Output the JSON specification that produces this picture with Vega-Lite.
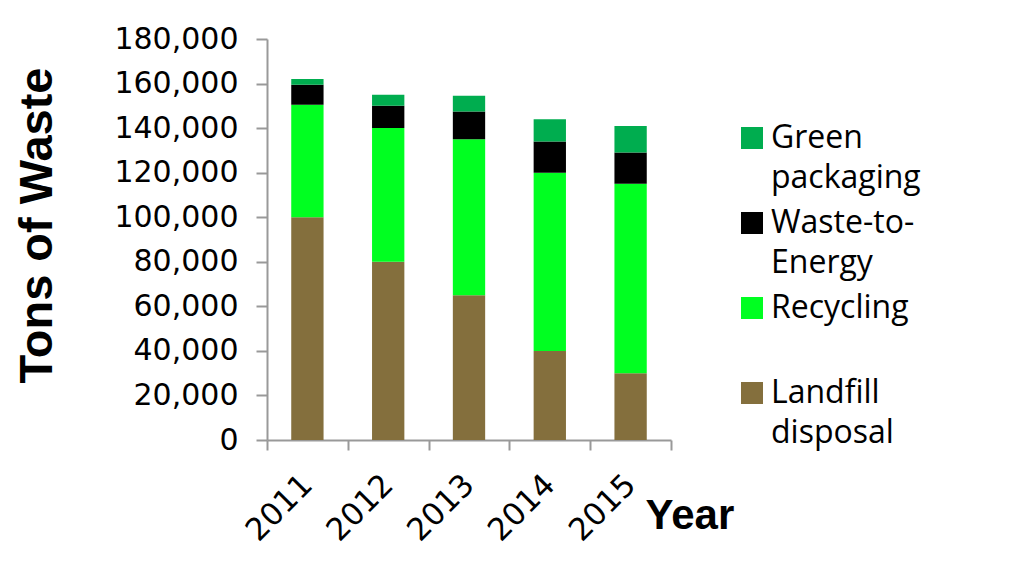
{
  "$schema": "https://vega.github.io/schema/vega-lite/v6.json",
  "autosize": "none",
  "width": 404,
  "height": 401,
  "padding": {"left": 267, "top": 39, "right": 350, "bottom": 122},
  "background": "white",
  "data": {
    "values": [
      {"year": "2011", "type": "Landfill disposal", "k": 1, "tons": 100000},
      {"year": "2011", "type": "Recycling", "k": 2, "tons": 50500},
      {"year": "2011", "type": "Waste-to-Energy", "k": 3, "tons": 9000},
      {"year": "2011", "type": "Green packaging", "k": 4, "tons": 2500},
      {"year": "2012", "type": "Landfill disposal", "k": 1, "tons": 80000},
      {"year": "2012", "type": "Recycling", "k": 2, "tons": 60000},
      {"year": "2012", "type": "Waste-to-Energy", "k": 3, "tons": 10000},
      {"year": "2012", "type": "Green packaging", "k": 4, "tons": 5000},
      {"year": "2013", "type": "Landfill disposal", "k": 1, "tons": 65000},
      {"year": "2013", "type": "Recycling", "k": 2, "tons": 70000},
      {"year": "2013", "type": "Waste-to-Energy", "k": 3, "tons": 12500},
      {"year": "2013", "type": "Green packaging", "k": 4, "tons": 7000},
      {"year": "2014", "type": "Landfill disposal", "k": 1, "tons": 40000},
      {"year": "2014", "type": "Recycling", "k": 2, "tons": 80000},
      {"year": "2014", "type": "Waste-to-Energy", "k": 3, "tons": 14000},
      {"year": "2014", "type": "Green packaging", "k": 4, "tons": 10000},
      {"year": "2015", "type": "Landfill disposal", "k": 1, "tons": 30000},
      {"year": "2015", "type": "Recycling", "k": 2, "tons": 85000},
      {"year": "2015", "type": "Waste-to-Energy", "k": 3, "tons": 14000},
      {"year": "2015", "type": "Green packaging", "k": 4, "tons": 12000}
    ]
  },
  "mark": {"type": "bar", "width": {"band": 0.4}},
  "encoding": {
    "x": {
      "field": "year",
      "type": "ordinal",
      "scale": {"paddingInner": 0, "paddingOuter": 0},
      "axis": {
        "title": "Year",
        "titleFont": "Liberation Sans",
        "titleFontSize": 42,
        "titleFontWeight": "bold",
        "titleColor": "black",
        "titleAlign": "left",
        "titleBaseline": "alphabetic",
        "titleAnchor": "start",
        "titleX": 378,
        "titleY": 88,
        "labelAngle": -45,
        "labelAlign": "right",
        "labelBaseline": "middle",
        "labelFont": "DejaVu Sans",
        "labelFontSize": 31,
        "labelColor": "black",
        "labelPadding": 30,
        "tickBand": "extent",
        "tickSize": 10,
        "tickWidth": 2,
        "tickColor": "#999999",
        "domainColor": "#999999",
        "domainWidth": 2,
        "grid": false
      }
    },
    "y": {
      "field": "tons",
      "type": "quantitative",
      "aggregate": "sum",
      "stack": "zero",
      "scale": {"domain": [0, 180000], "nice": false},
      "axis": {
        "title": "Tons of Waste",
        "titleFont": "Liberation Sans",
        "titleFontSize": 47,
        "titleFontWeight": "bold",
        "titleColor": "black",
        "titleAngle": -90,
        "titleAlign": "center",
        "titleBaseline": "alphabetic",
        "titleX": -216,
        "titleY": 186,
        "values": [0, 20000, 40000, 60000, 80000, 100000, 120000, 140000, 160000, 180000],
        "format": ",.0f",
        "labelFont": "DejaVu Sans",
        "labelFontSize": 30,
        "labelColor": "black",
        "labelPadding": 18,
        "tickSize": 11,
        "tickWidth": 2,
        "tickColor": "#999999",
        "domainColor": "#999999",
        "domainWidth": 2,
        "grid": false
      }
    },
    "color": {
      "field": "type",
      "type": "nominal",
      "scale": {
        "domain": ["Green packaging", "Waste-to-Energy", "Recycling", "Landfill disposal"],
        "range": ["#00ad4f", "#000000", "#00ff21", "#846f3d"]
      },
      "legend": {
        "title": null,
        "orient": "none",
        "legendX": 469,
        "legendY": 83,
        "symbolType": "square",
        "symbolSize": 484,
        "symbolStrokeWidth": 0,
        "labelFont": "Open Sans",
        "labelFontSize": 32,
        "labelColor": "black",
        "labelOffset": 3,
        "labelLimit": 400,
        "labelBaseline": "middle",
        "rowPadding": 13,
        "labelExpr": "datum.label == 'Green packaging' ? ['Green', 'packaging'] : datum.label == 'Waste-to-Energy' ? ['Waste-to-', 'Energy'] : datum.label == 'Recycling' ? ['Recycling', ''] : ['Landfill', 'disposal']",
        "encode": {
          "labels": {"update": {"lineHeight": {"value": 40}}}
        }
      }
    },
    "order": {"field": "k", "type": "quantitative"}
  },
  "config": {
    "view": {"stroke": null}
  }
}
